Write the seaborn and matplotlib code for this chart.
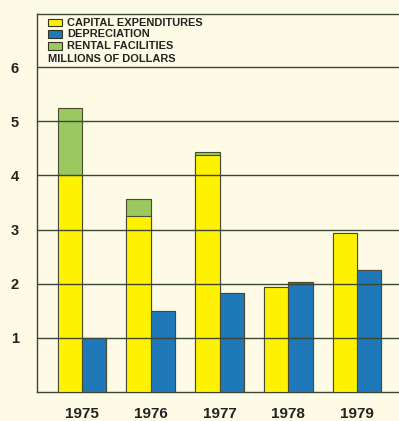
import matplotlib
matplotlib.use("Agg")
import matplotlib.pyplot as plt
import seaborn as sns
import pandas as pd
from matplotlib.patches import Rectangle

years = ["1975", "1976", "1977", "1978", "1979"]
capital = [4.0, 3.25, 4.37, 1.94, 2.94]
rental = [1.24, 0.31, 0.07, 0.0, 0.0]
depreciation = [1.0, 1.5, 1.83, 2.03, 2.25]
yticks = [1, 2, 3, 4, 5, 6]
legend_labels = ["CAPITAL EXPENDITURES", "DEPRECIATION", "RENTAL FACILITIES"]
unit_label = "MILLIONS OF DOLLARS"

YELLOW = "#fff200"
BLUE = "#1f78b8"
GREEN = "#9cc862"
BG = "#fdfbe6"
EDGE = "#4a4a30"
GRID = "#3c4636"

sns.set_style("white")
plt.rcParams["font.family"] = ["Liberation Sans", "DejaVu Sans"]

total_top = [c + r for c, r in zip(capital, rental)]
df_top = pd.DataFrame({
    "year": years * 2,
    "value": total_top + depreciation,
    "series": ["cap"] * 5 + ["dep"] * 5,
})
df_cap = pd.DataFrame({
    "year": years * 2,
    "value": capital + depreciation,
    "series": ["cap"] * 5 + ["dep"] * 5,
})

fig = plt.figure(figsize=(3.99, 4.21), dpi=100, facecolor=BG)
ax = fig.add_axes([37 / 399, 29 / 421, 1 - 37 / 399, 378 / 421])
ax.set_facecolor(BG)

sns.barplot(data=df_top, x="year", y="value", hue="series", order=years,
            hue_order=["cap", "dep"], palette=[GREEN, BLUE], width=0.71,
            gap=0, dodge=True, legend=False, ax=ax, saturation=1,
            edgecolor=EDGE, linewidth=0.8, errorbar=None, zorder=2)
sns.barplot(data=df_cap, x="year", y="value", hue="series", order=years,
            hue_order=["cap", "dep"], palette=[YELLOW, BLUE], width=0.71,
            gap=0, dodge=True, legend=False, ax=ax, saturation=1,
            edgecolor=EDGE, linewidth=0.8, errorbar=None, zorder=3)

ax.set_xlim(-0.655, 4.611)
ax.set_ylim(0, 6.98)

for y in yticks:
    ax.axhline(y, color=GRID, lw=1.0, zorder=5)

ax.set_yticks(yticks)
ax.set_yticklabels([str(v) for v in yticks], fontsize=10.5, fontweight="bold",
                   color="#222222")
ax.tick_params(axis="y", length=0, pad=13)
ax.tick_params(axis="x", length=0, pad=11)
ax.set_xticks(range(len(years)))
ax.set_xticklabels(years, fontsize=11, fontweight="bold", color="#222222")
ax.set_xlabel("")
ax.set_ylabel("")

ax.spines["right"].set_visible(False)
for side in ["left", "bottom", "top"]:
    ax.spines[side].set_color(GRID)
    ax.spines[side].set_linewidth(1.0)

# legend in the top box
colors = [YELLOW, BLUE, GREEN]
rows_px = [22.5, 34, 46]
for lab, col, ypx in zip(legend_labels, colors, rows_px):
    yf = 1 - (ypx - 14) / 378
    ax.add_patch(Rectangle((11 / 362, yf - 3.8 / 378), 14 / 362, 7.6 / 378,
                           transform=ax.transAxes, facecolor=col,
                           edgecolor="#333322", lw=0.8, zorder=6,
                           clip_on=False))
    ax.text(30 / 362, yf, lab, transform=ax.transAxes, fontsize=7.9,
            fontweight="bold", va="center", ha="left", color="#222222",
            zorder=6)
ax.text(11 / 362, 1 - (59.5 - 14) / 378, unit_label, transform=ax.transAxes,
        fontsize=7.9, fontweight="bold", va="center", ha="left",
        color="#222222", zorder=6)

fig.savefig("out.png", dpi=100, facecolor=BG)
